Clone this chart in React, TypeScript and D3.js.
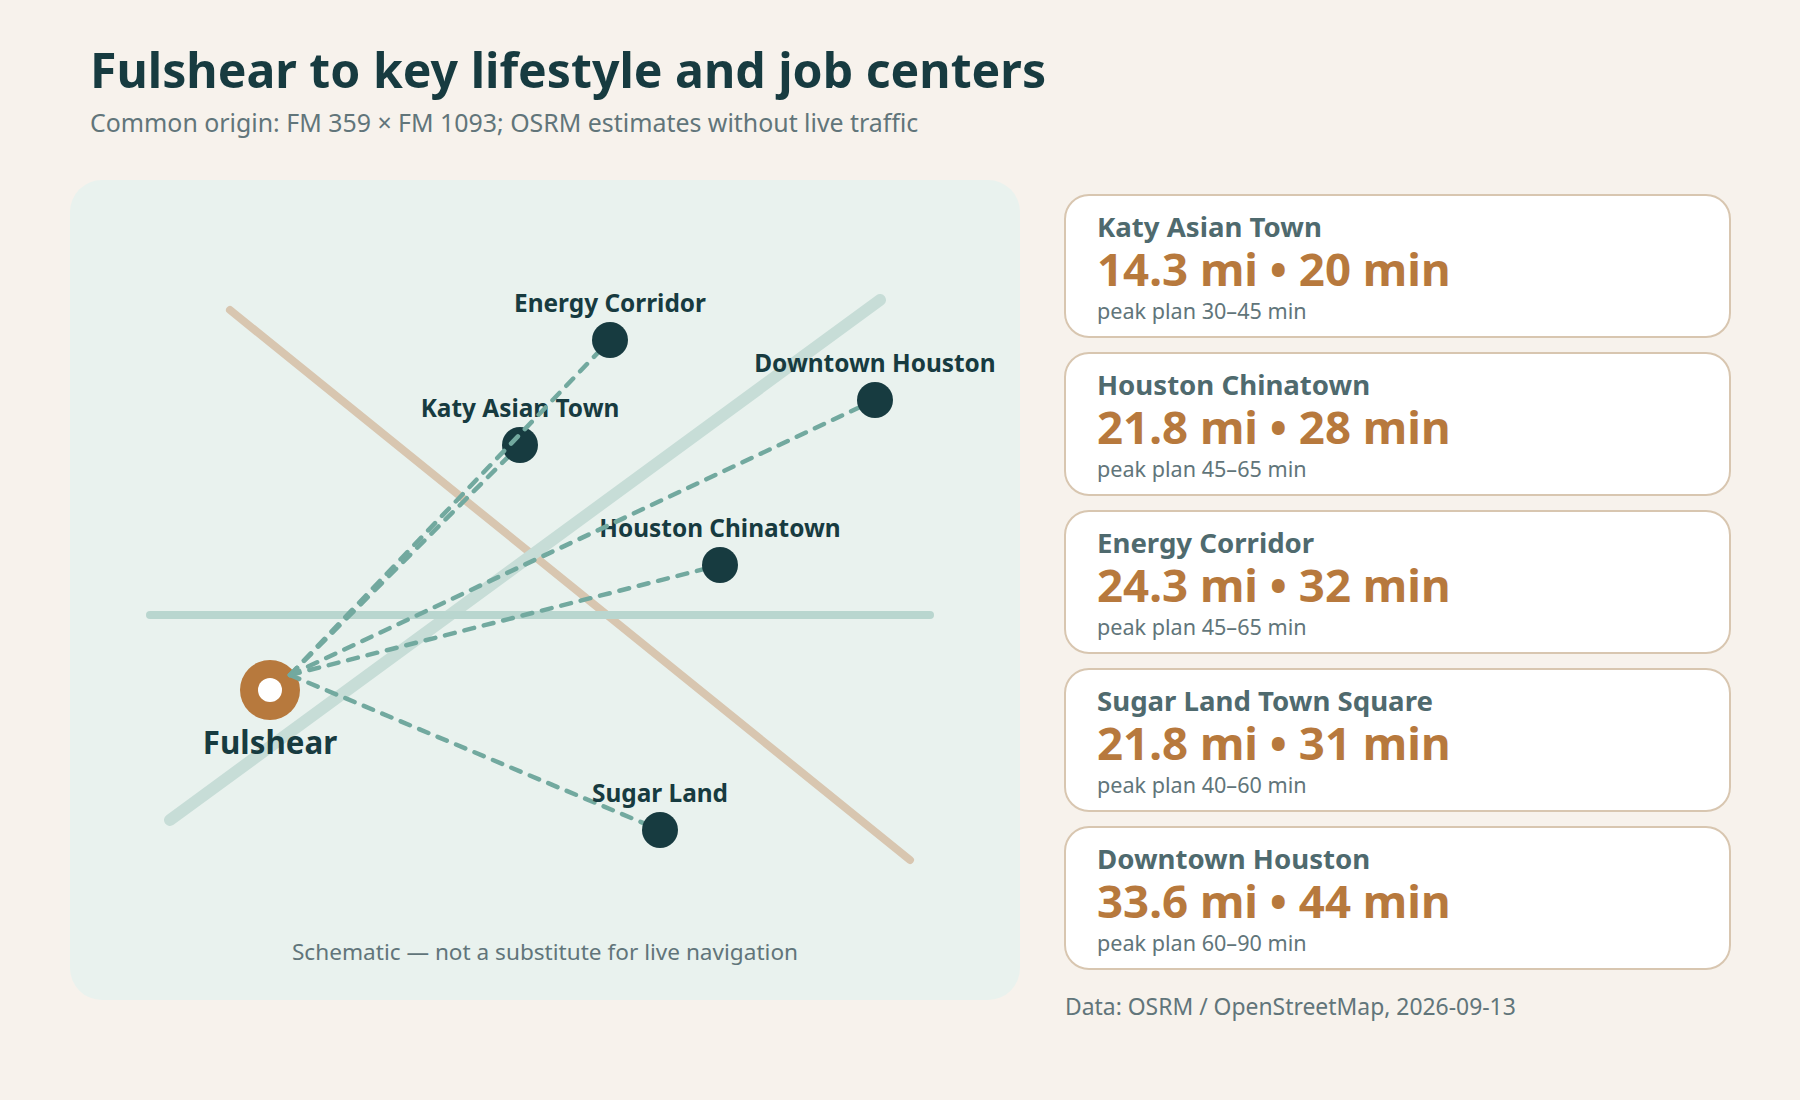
import React from "react";
import * as d3 from "d3";

const destinations = ["Katy Asian Town", "Houston Chinatown", "Energy Corridor", "Sugar Land", "Downtown Houston"];
const mapX = [45, 65, 54, 59, 80.5];
const mapY = [26.5, 38.5, 16, 65, 22];

const cardNames = ["Katy Asian Town", "Houston Chinatown", "Energy Corridor", "Sugar Land Town Square", "Downtown Houston"];
const miles = [14.3, 21.8, 24.3, 21.8, 33.6];
const minutes = [20, 28, 32, 31, 44];
const peakPlans = ["30–45", "45–65", "45–65", "40–60", "60–90"];

// schematic map units, one unit is 10px on the panel
const originPoint: [number, number] = [20, 51];
const lineStart: [number, number] = [22, 49.5];
const roads = [
  { from: [16, 13], to: [84, 68], color: "#d8c6b0", width: 8 },
  { from: [10, 64], to: [81, 12], color: "#c7ddd7", width: 12 },
  { from: [8, 43.5], to: [86, 43.5], color: "#b9d6cf", width: 8 },
];

const FONT = "'Noto Sans', sans-serif";
const DARK = "#173b40";
const BROWN = "#b7793d";
const MUTED = "#61757a";

const x = d3.scaleLinear().domain([0, 95]).range([70, 1020]);
const y = d3.scaleLinear().domain([0, 82]).range([180, 1000]);
const cardY = d3.scaleBand<number>().domain(d3.range(5)).range([195, 195 + 158 * 5 - 16]).paddingInner(16 / 158).paddingOuter(0);

const line = d3.line<number[]>().x((d) => x(d[0])).y((d) => y(d[1]));

export default function App() {
  return (
    <svg width={1800} height={1100} style={{ position: "absolute", left: 0, top: 0 }} fontFamily={FONT}>
      <rect width={1800} height={1100} fill="#f7f2ec" />
      <text x={90} y={88} fontSize={48.2} fontWeight={700} fill={DARK}>Fulshear to key lifestyle and job centers</text>
      <text x={90} y={132} fontSize={24.9} fill={MUTED}>Common origin: FM 359 × FM 1093; OSRM estimates without live traffic</text>

      <rect x={x(0)} y={y(0)} width={x(95) - x(0)} height={y(82) - y(0)} rx={32} fill="#e9f2ee" />
      {roads.map((r, i) => (
        <path key={i} d={line([r.from, r.to])!} fill="none" stroke={r.color} strokeWidth={r.width} strokeLinecap="round" />
      ))}

      <circle cx={x(originPoint[0])} cy={y(originPoint[1])} r={30} fill={BROWN} />
      <circle cx={x(originPoint[0])} cy={y(originPoint[1])} r={12} fill="#fff" />
      <text x={x(originPoint[0])} y={754} textAnchor="middle" fontSize={31.3} fontWeight={700} fill={DARK}>Fulshear</text>

      {destinations.map((name, i) => (
        <g key={name}>
          <path d={line([lineStart, [mapX[i], mapY[i]]])!} fill="none" stroke="#72a99f" strokeWidth={4.5} strokeLinecap="round" strokeDasharray="10 10" />
          <circle cx={x(mapX[i])} cy={y(mapY[i])} r={18} fill={DARK} />
          <text x={x(mapX[i])} y={y(mapY[i]) - 28} textAnchor="middle" fontSize={24.4} fontWeight={700} fill={DARK}>{name}</text>
        </g>
      ))}

      <text x={545} y={960} textAnchor="middle" fontSize={22.6} fill={MUTED}>Schematic — not a substitute for live navigation</text>

      {cardNames.map((name, i) => {
        const top = cardY(i)!;
        return (
          <g key={name}>
            <rect x={1065} y={top} width={665} height={cardY.bandwidth()} rx={24} fill="#fff" stroke="#d8c6b0" strokeWidth={2} />
            <text x={1097} y={top + 42} fontSize={27.6} fontWeight={700} fill="#4f6a6e">{name}</text>
            <text x={1097} y={top + 91} fontSize={45.6} fontWeight={700} fill={BROWN}>{`${miles[i]} mi • ${minutes[i]} min`}</text>
            <text x={1097} y={top + 124} fontSize={21.6} fill={MUTED}>{`peak plan ${peakPlans[i]} min`}</text>
          </g>
        );
      })}
      <text x={1065} y={1015} fontSize={22.9} fill={MUTED}>Data: OSRM / OpenStreetMap, 2026-09-13</text>
    </svg>
  );
}
